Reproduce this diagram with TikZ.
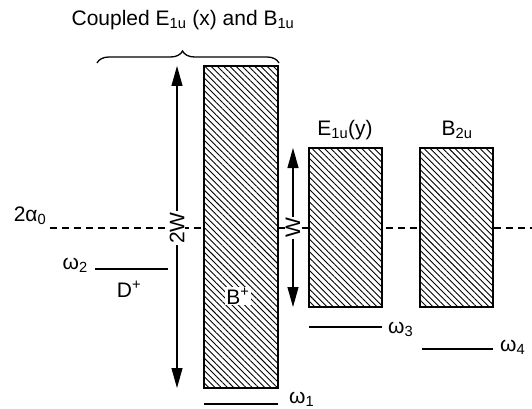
\documentclass[tikz,border=0pt]{standalone}
\usepackage{fontspec}
\setmainfont{Liberation Sans}
\usetikzlibrary{arrows.meta,patterns.meta,decorations.pathreplacing}

\tikzset{
    band/.style={draw, line width=1.3pt, preaction={fill=white},
        pattern={Lines[angle=-45, distance=4.4pt, line width=0.9pt]}},
    level/.style={line width=1.4pt},
    gap/.style={fill=white, inner sep=1pt},
}

\begin{document}
\begin{tikzpicture}[x=1pt, y=-1pt, >={Triangle[width=11pt,length=20pt]},
    font=\fontsize{21}{25}\selectfont]

    % frame of the picture (pixel units, y downwards)
    \useasboundingbox (0,0) rectangle (532,409);

    % 1. band corners
    \coordinate (Bp-nw) at (204,66);
    \coordinate (Bp-se) at (278,388);
    \coordinate (Ey-nw) at (309,148);
    \coordinate (Ey-se) at (382,307);
    \coordinate (Bz-nw) at (420,148);
    \coordinate (Bz-se) at (493,307);

    % 2. dashed line at 2 alpha_0 (behind the bands)
    \node[inner sep=1pt] (alpha) at (30,216) {2α\textsubscript{0}};
    \coordinate (dash-end) at (532,228);
    \draw[line width=1.1pt, dash pattern=on 7pt off 5pt] (50,228) -- (dash-end);

    % 3. the three bands
    \draw[band] (Bp-nw) rectangle (Bp-se);
    \draw[band] (Ey-nw) rectangle (Ey-se);
    \draw[band] (Bz-nw) rectangle (Bz-se);

    % 4. widths of the bands
    \coordinate (w2-top) at (177,66);
    \coordinate (w2-bot) at (177,388);
    \draw[<->, line width=1.1pt] (w2-top) -- (w2-bot);
    \node[gap, rotate=90] (twoW) at (177,228) {2W};

    \coordinate (w1-top) at (293,148);
    \coordinate (w1-bot) at (293,307);
    \draw[<->, line width=1.1pt] (w1-top) -- (w1-bot);
    \node[gap, rotate=90] (oneW) at (293,228) {W};

    % 5. discrete levels
    \coordinate (om2-a) at (95,269);
    \coordinate (om2-b) at (168,269);
    \draw[level] (om2-a) -- (om2-b);
    \node[anchor=east, inner sep=1pt] (om2) at (89,265) {ω\textsubscript{2}};
    \node (Dp) at (129,289) {D\textsuperscript{+}};

    \coordinate (om1-a) at (204,404);
    \coordinate (om1-b) at (278,404);
    \draw[level] (om1-a) -- (om1-b);
    \node[anchor=west, inner sep=1pt] (om1) at (288,399) {ω\textsubscript{1}};

    \coordinate (om3-a) at (309,327);
    \coordinate (om3-b) at (382,327);
    \draw[level] (om3-a) -- (om3-b);
    \node[anchor=west, inner sep=1pt] (om3) at (387,329) {ω\textsubscript{3}};

    \coordinate (om4-a) at (422,349);
    \coordinate (om4-b) at (493,349);
    \draw[level] (om4-a) -- (om4-b);
    \node[anchor=west, inner sep=1pt] (om4) at (499,347) {ω\textsubscript{4}};

    % 6. band names
    \node[gap] (Bplus) at (238,296) {B\textsuperscript{+}};
    \node (Eylbl) at (345,130) {E\textsubscript{1u}(y)};
    \node (Bzlbl) at (457,130) {B\textsubscript{2u}};

    % 7. brace and title
    \coordinate (br-a) at (97,63);
    \coordinate (br-b) at (279,63);
    \draw[line width=1.3pt, decorate, decoration={brace, amplitude=12pt, aspect=0.47}] (br-a) -- (br-b);
    \node (title) at (183,20) {Coupled E\textsubscript{1u} (x) and B\textsubscript{1u}};

\end{tikzpicture}
\end{document}
